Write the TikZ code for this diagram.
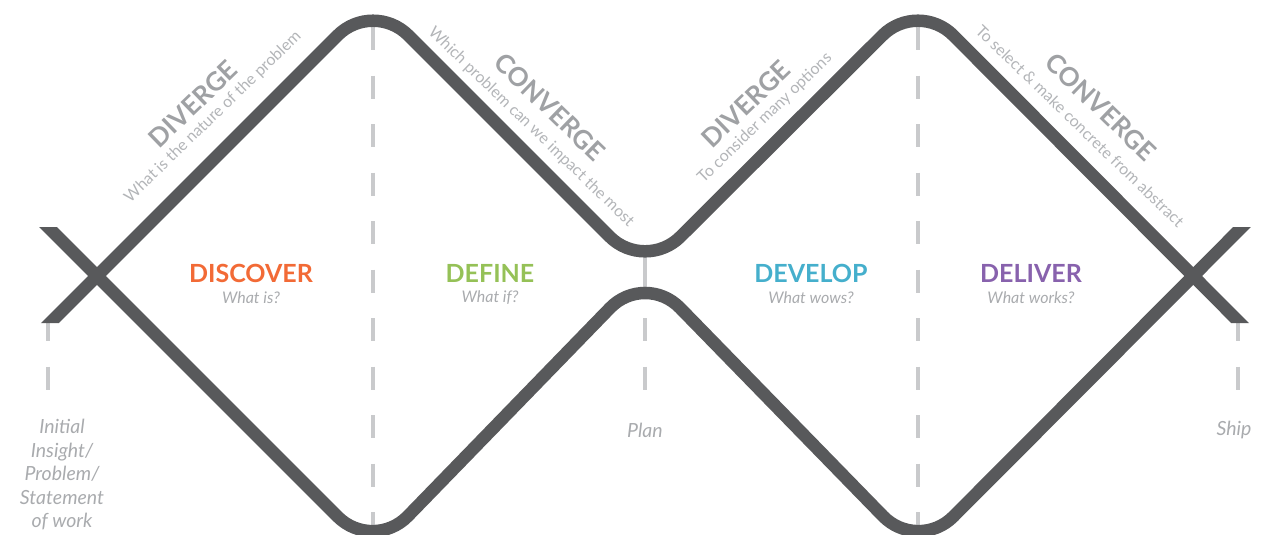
\documentclass[tikz,border=0pt]{standalone}
\usepackage{fontspec}
\setmainfont{Lato}

\definecolor{trackgray}{HTML}{58595B}
\definecolor{guidegray}{HTML}{C9CACC}
\definecolor{modegray}{HTML}{9FA1A4}
\definecolor{notegray}{HTML}{B3B5B8}
\definecolor{softgray}{HTML}{A9ABAE}
\definecolor{discovercol}{HTML}{F26A36}
\definecolor{definecol}{HTML}{95C157}
\definecolor{developcol}{HTML}{45AFCC}
\definecolor{delivercol}{HTML}{8862AD}

\begin{document}
\begin{tikzpicture}[x=1pt,y=-1pt,
  track/.style={draw=trackgray, line width=12.5pt, rounded corners=50pt, line cap=butt, line join=round},
  guide/.style={draw=guidegray, line width=3.2pt, dash pattern=on 23pt off 25.5pt},
  phase/.style={inner sep=0pt, font=\bfseries\fontsize{25}{29}\selectfont},
  question/.style={inner sep=0pt, font=\itshape\fontsize{16}{19}\selectfont, text=softgray},
  mode/.style={inner sep=0pt, font=\bfseries\fontsize{26}{30}\selectfont, text=modegray},
  modenote/.style={inner sep=0pt, font=\fontsize{16}{19}\selectfont, text=notegray},
  milestone/.style={inner sep=0pt, font=\itshape\fontsize{19.5}{23.5}\selectfont, text=softgray, align=center}]

\useasboundingbox (0,0) rectangle (1263,535);

% key points of the two tracks (sharp corners before rounding)
\coordinate (topA) at (373,0);
\coordinate (topB) at (918,0);
\coordinate (waist) at (645,272);
\coordinate (botA) at (373,552);
\coordinate (botB) at (918,552);
\coordinate (inL) at (40,333);
\coordinate (inR) at (1250,333);
\coordinate (outL) at (40,219);
\coordinate (outR) at (1250,219);

% dashed stage guides
\draw[guide] (373,27) -- (373,540);
\draw[guide] (918,27) -- (918,540);
\draw[guide, dash pattern=] (645,255) -- (645,290);
\draw[guide] (645,318) -- (645,395);
\draw[guide] (48,318) -- (48,395);
\draw[guide] (1238,318) -- (1238,395);

% the two diamond tracks, ends cut level
\begin{scope}
  \clip (-10,227) -- (115,227) -- (115,-30) -- (1175,-30) -- (1175,227) -- (1290,227)
        -- (1290,323) -- (1175,323) -- (1175,580) -- (115,580) -- (115,323) -- (-10,323) -- cycle;
  \draw[track] (inL) -- (topA) -- (waist) -- (topB) -- (inR);
  \draw[track] (outL) -- (botA) -- (waist) -- (botB) -- (outR);
\end{scope}

% phase names
\node[phase, text=discovercol] (discover) at (251,273) {DISCOVER};
\node[question] (discoverq) at (251,298) {What is?};
\node[phase, text=definecol] (define) at (490,273) {DEFINE};
\node[question] (defineq) at (490,298) {What if?};
\node[phase, text=developcol] (develop) at (811,273) {DEVELOP};
\node[question] (developq) at (811,298) {What wows?};
\node[phase, text=delivercol] (deliver) at (1031,273) {DELIVER};
\node[question] (deliverq) at (1031,298) {What works?};

% diverge / converge labels along the tracks
\node[mode, rotate=44] (div1) at (193,104) {DIVERGE};
\node[modenote, rotate=44] (div1n) at (213,117) {What is the nature of the problem};
\node[mode, rotate=-44] (con1) at (550,107) {CONVERGE};
\node[modenote, rotate=-44] (con1n) at (531,127) {Which problem can we impact the most};
\node[mode, rotate=44] (div2) at (746,104) {DIVERGE};
\node[modenote, rotate=44] (div2n) at (765,118) {To consider many options};
\node[mode, rotate=-44] (con2) at (1101,107) {CONVERGE};
\node[modenote, rotate=-44] (con2n) at (1080,126) {To select \& make concrete from abstract};

% milestones
\node[milestone, anchor=north] (start) at (62,419) {Initial\\Insight/\\Problem/\\Statement\\of work};
\node[milestone] (plan) at (645,430) {Plan};
\node[milestone] (ship) at (1234,430) {Ship};

\end{tikzpicture}
\end{document}
